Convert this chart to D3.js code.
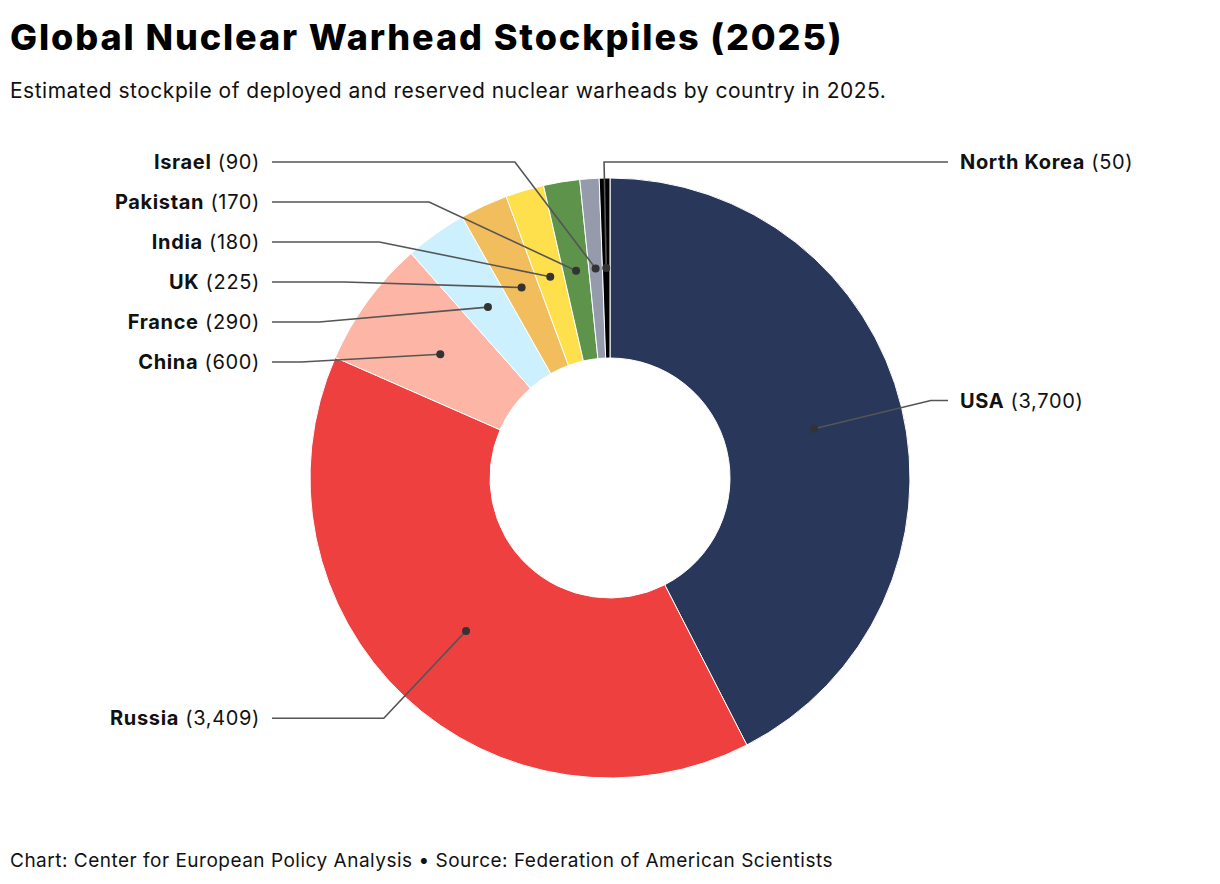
<html>
<head>
<meta charset="utf-8">
<style>
  body { margin: 0; background: #fff; }
  svg text { font-family: Inter, "Noto Sans", sans-serif; fill: #111; }
</style>
<script src="https://cdn.jsdelivr.net/npm/d3@7"></script>
</head>
<body>
<svg width="1220" height="884"></svg>
<script>
// data
var countries = ["USA", "Russia", "China", "France", "UK", "India", "Pakistan", "Israel", "North Korea"];
var warheads  = [3700, 3409, 600, 290, 225, 180, 170, 90, 50];
var colors    = ["#29375a", "#ef4040", "#fdb6a5", "#ccf0fd", "#f2bd5d", "#fde04b", "#5d934b", "#959bab", "#000000"];
var rightSide = ["USA", "North Korea"];

var svg = d3.select("svg");
var cx = 610, cy = 478;
var outerR = 300, innerR = 120;
var labelR = outerR * 1.1;     // where the leader line bends
var gap = 40;                  // vertical space between labels

svg.append("text").attr("x", 10).attr("y", 50)
   .style("font-size", "36px").style("font-weight", 800)
   .style("letter-spacing", "1.9px").style("fill", "#000")
   .text("Global Nuclear Warhead Stockpiles (2025)");

svg.append("text").attr("x", 10).attr("y", 98)
   .style("font-size", "21px").style("letter-spacing", "0.5px")
   .text("Estimated stockpile of deployed and reserved nuclear warheads by country in 2025.");

svg.append("text").attr("x", 10).attr("y", 867)
   .style("font-size", "19px").style("letter-spacing", "0.5px")
   .text("Chart: Center for European Policy Analysis \u2022 Source: Federation of American Scientists");

var data = countries.map(function(c, i){ return {name: c, value: warheads[i], color: colors[i]}; });

var pie = d3.pie().sort(null).value(function(d){ return d.value; });
var arc = d3.arc().innerRadius(innerR).outerRadius(outerR);
var arcs = pie(data);

var g = svg.append("g").attr("transform", "translate(" + cx + "," + cy + ")");

g.selectAll(".slice")
 .data(arcs)
 .enter().append("path")
 .attr("class", "slice")
 .attr("d", arc)
 .attr("fill", function(d){ return d.data.color; })
 .attr("stroke", "#fff")
 .attr("stroke-width", 1);

// label positions: ideal height along the centroid, then pushed apart
arcs.forEach(function(d){
    d.mid = (d.startAngle + d.endAngle) / 2;
    d.right = rightSide.indexOf(d.data.name) >= 0;
    d.ly = -labelR * Math.cos(d.mid);
});
[true, false].forEach(function(side){
    var group = arcs.filter(function(d){ return d.right === side; })
                    .sort(function(a, b){ return a.ly - b.ly; });
    var prev = -Infinity;
    group.forEach(function(d){
        var y = Math.max(d.ly, -outerR - 16, prev + gap);
        d.ly = y;
        prev = y;
    });
});
arcs.forEach(function(d){
    var s = d.right ? 1 : -1;
    var circleX = s * Math.sqrt(Math.max(0, labelR * labelR - d.ly * d.ly));
    var centroidX = labelR * Math.sin(d.mid);
    d.ex = Math.min(circleX, centroidX);
    d.tx = s * (outerR + 38);
    d.c = arc.centroid(d);
});

g.selectAll(".leader")
 .data(arcs)
 .enter().append("polyline")
 .attr("class", "leader")
 .attr("fill", "none")
 .attr("stroke", "#555")
 .attr("stroke-width", 1.6)
 .attr("points", function(d){
     return [d.c, [d.ex, d.ly], [d.tx, d.ly]].map(function(p){ return p.join(","); }).join(" ");
 });

g.selectAll(".dot")
 .data(arcs)
 .enter().append("circle")
 .attr("class", "dot")
 .attr("cx", function(d){ return d.c[0]; })
 .attr("cy", function(d){ return d.c[1]; })
 .attr("r", 4)
 .attr("fill", "#333");

var labels = g.selectAll(".label")
 .data(arcs)
 .enter().append("text")
 .attr("class", "label")
 .attr("x", function(d){ return d.right ? d.tx + 12 : d.tx - 12; })
 .attr("y", function(d){ return d.ly; })
 .attr("dy", "0.36em")
 .attr("text-anchor", function(d){ return d.right ? "start" : "end"; })
 .style("font-size", "20px")
 .style("letter-spacing", "0.65px");

labels.append("tspan").style("font-weight", 700).text(function(d){ return d.data.name; });
labels.append("tspan").text(function(d){ return " (" + d3.format(",")(d.data.value) + ")"; });
</script>
</body>
</html>
